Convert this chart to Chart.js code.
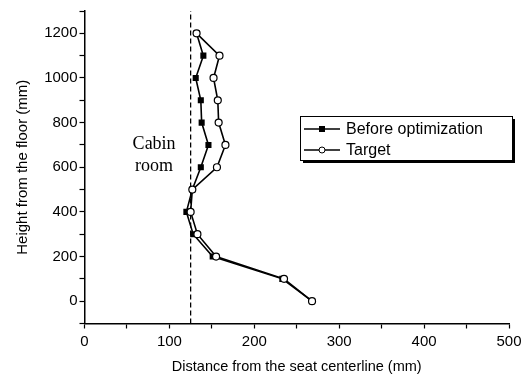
<!DOCTYPE html>
<html>
<head>
<meta charset="utf-8">
<script src="https://cdn.jsdelivr.net/npm/chart.js@4.4.1/dist/chart.umd.min.js"></script>
<style>
  html, body { margin: 0; padding: 0; background: #fff; }
  #wrap { width: 531px; height: 381px; }
</style>
</head>
<body>
<div id="wrap"><canvas id="chart" width="531" height="381"></canvas></div>
<script>
// heights (mm) and distances
const heights = [1200, 1100, 1000, 900, 800, 700, 600, 500, 400, 300, 200, 100, 0];
const beforeOpt = [132, 140, 131, 137, 138, 146, 137, 127, 120, 128, 151, 233, 268];
const target    = [132, 159, 152, 157, 158, 166, 156, 127, 125, 133, 155, 235, 268];
const cabinX = 125;
const cabinSpan = [-100, 1300];

const pts = (xs) => xs.map((v, i) => ({ x: v, y: heights[i] }));

// legend box with drop shadow + "Cabin room" note
const extras = {
  id: 'extras',
  afterDraw(chart) {
    const ctx = chart.ctx;
    const xs = chart.scales.x, ys = chart.scales.y;
    ctx.save();
    // Cabin room
    ctx.fillStyle = '#000';
    ctx.font = '18px "Liberation Serif", "Times New Roman", serif';
    ctx.textAlign = 'center';
    ctx.textBaseline = 'middle';
    const cx = xs.getPixelForValue(82);
    ctx.fillText('Cabin', cx, ys.getPixelForValue(705));
    ctx.fillText('room', cx, ys.getPixelForValue(605));

    // legend
    const bx = 300, by = 116, bw = 212, bh = 44;
    ctx.fillStyle = '#000';
    ctx.fillRect(bx + 3, by + 3, bw, bh);
    ctx.fillStyle = '#fff';
    ctx.fillRect(bx, by, bw, bh);
    ctx.strokeStyle = '#000';
    ctx.lineWidth = 1;
    ctx.strokeRect(bx + 0.5, by + 0.5, bw, bh);

    const rows = [chart.data.datasets[0], chart.data.datasets[1]];
    rows.forEach((ds, i) => {
      const y = by + 13 + i * 21;
      ctx.strokeStyle = '#000';
      ctx.lineWidth = 1.5;
      ctx.beginPath();
      ctx.moveTo(bx + 4, y);
      ctx.lineTo(bx + 40, y);
      ctx.stroke();
      if (ds.pointStyle === 'rect') {
        ctx.fillStyle = '#000';
        ctx.fillRect(bx + 19, y - 3, 6, 6);
      } else {
        ctx.fillStyle = '#fff';
        ctx.beginPath();
        ctx.arc(bx + 22, y, 3, 0, Math.PI * 2);
        ctx.fill();
        ctx.lineWidth = 1;
        ctx.stroke();
      }
      ctx.fillStyle = '#000';
      ctx.font = '16px "Liberation Sans", Arial, sans-serif';
      ctx.textAlign = 'left';
      ctx.textBaseline = 'middle';
      ctx.fillText(ds.label, bx + 46, y + 1);
    });
    ctx.restore();
  }
};

const ctx = document.getElementById('chart').getContext('2d');
new Chart(ctx, {
  type: 'line',
  data: {
    datasets: [
      {
        label: 'Before optimization',
        data: pts(beforeOpt),
        borderColor: '#000',
        borderWidth: 1.6,
        pointStyle: 'rect',
        pointRadius: 4.3,
        pointBackgroundColor: '#000',
        pointBorderColor: '#000',
        pointBorderWidth: 0,
        order: 2
      },
      {
        label: 'Target',
        data: pts(target),
        borderColor: '#000',
        borderWidth: 1.6,
        pointStyle: 'circle',
        pointRadius: 3.5,
        pointBackgroundColor: '#fff',
        pointBorderColor: '#000',
        pointBorderWidth: 1.2,
        order: 1
      },
      {
        label: 'cabin',
        data: cabinSpan.map(v => ({ x: cabinX, y: v })),
        borderColor: '#000',
        borderWidth: 1.3,
        borderDash: [5, 3],
        pointRadius: 0,
        order: 3
      }
    ]
  },
  options: {
    responsive: false,
    animation: false,
    layout: { padding: { top: 7, right: 22, left: 0, bottom: 0 } },
    plugins: { legend: { display: false }, tooltip: { enabled: false } },
    scales: {
      x: {
        type: 'linear',
        min: 0, max: 500,
        afterFit(s) { s.height = 57.5; },
        border: { display: true, color: '#000', width: 1.5 },
        grid: { drawOnChartArea: false, drawTicks: true, tickLength: 5, tickColor: '#000', tickWidth: 1.2 },
        ticks: {
          stepSize: 50,
          color: '#000',
          padding: 4,
          maxRotation: 0,
          font: { family: '"Liberation Sans", Arial, sans-serif', size: 15 },
          callback: (v) => (v % 100 === 0 ? v : '')
        },
        title: {
          display: true,
          text: 'Distance from the seat centerline (mm)',
          color: '#000',
          font: { family: '"Liberation Sans", Arial, sans-serif', size: 14.5 },
          padding: { top: 0, bottom: 5 }
        }
      },
      y: {
        type: 'linear',
        min: -100, max: 1300,
        afterFit(s) { s.width = 84.5; },
        border: { display: true, color: '#000', width: 1.5 },
        grid: { drawOnChartArea: false, drawTicks: true, tickLength: 5, tickColor: '#000', tickWidth: 1.2 },
        ticks: {
          stepSize: 100,
          color: '#000',
          padding: 2,
          font: { family: '"Liberation Sans", Arial, sans-serif', size: 15 },
          callback: (v) => (v % 200 === 0 && v >= 0 && v <= 1200 ? v : '')
        },
        title: {
          display: true,
          text: 'Height from the floor (mm)',
          color: '#000',
          font: { family: '"Liberation Sans", Arial, sans-serif', size: 15 },
          padding: { top: 14, bottom: 0 }
        }
      }
    }
  },
  plugins: [extras]
});
</script>
</body>
</html>
